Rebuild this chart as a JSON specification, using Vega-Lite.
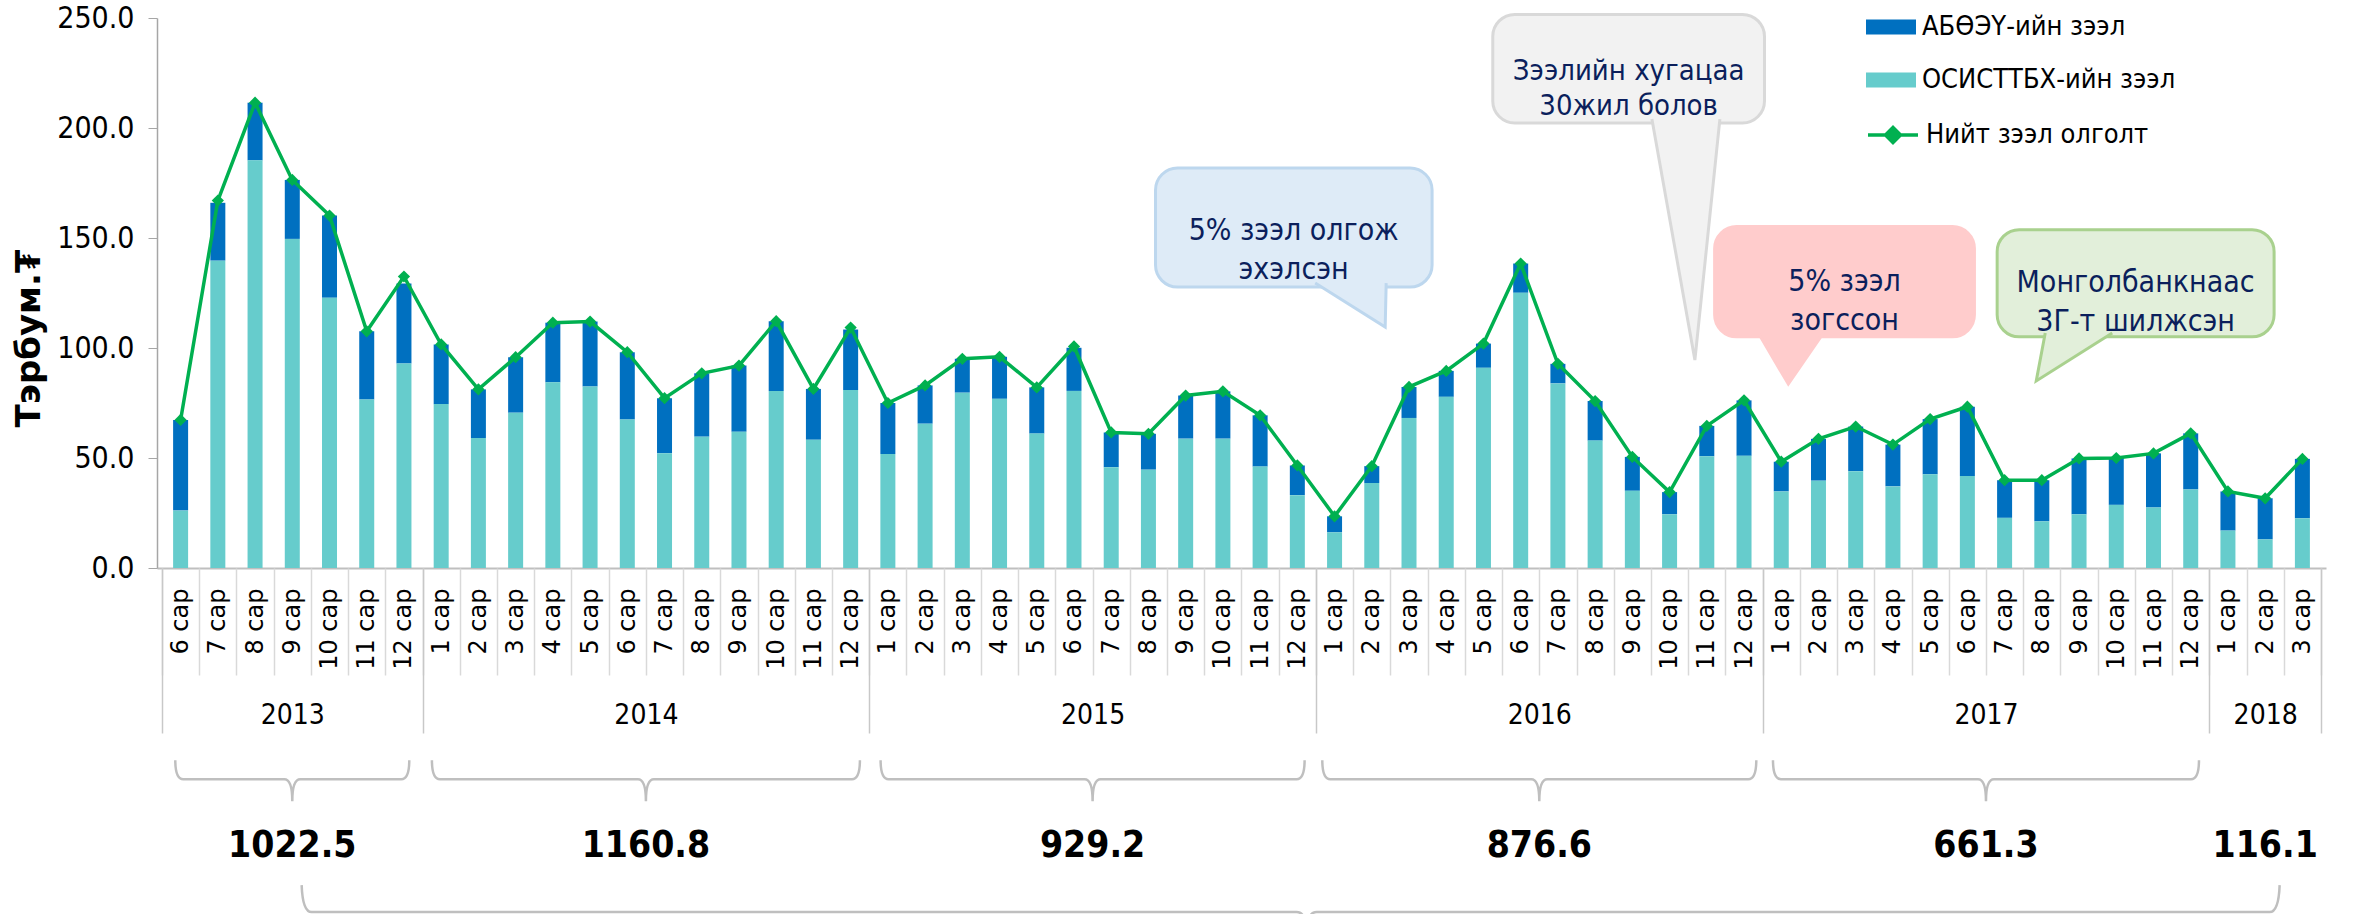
{
  "$schema": "https://vega.github.io/schema/vega-lite/v6.json",
  "width": 2169,
  "height": 550,
  "autosize": {"type": "none"},
  "padding": {"left": 157, "top": 18, "right": 38, "bottom": 346},
  "background": "white",
  "config": {"view": {"stroke": null}},
  "data": {"values": [
    {"i": 0, "year": 2013, "month": 6, "osis": 26.1, "abo": 41.2, "total": 67.3},
    {"i": 1, "year": 2013, "month": 7, "osis": 139.7, "abo": 26.3, "total": 167.0},
    {"i": 2, "year": 2013, "month": 8, "osis": 185.3, "abo": 26.2, "total": 211.5},
    {"i": 3, "year": 2013, "month": 9, "osis": 149.6, "abo": 26.8, "total": 176.4},
    {"i": 4, "year": 2013, "month": 10, "osis": 122.8, "abo": 37.4, "total": 160.2},
    {"i": 5, "year": 2013, "month": 11, "osis": 76.6, "abo": 31.0, "total": 107.6},
    {"i": 6, "year": 2013, "month": 12, "osis": 92.9, "abo": 36.4, "total": 132.5},
    {"i": 7, "year": 2014, "month": 1, "osis": 74.5, "abo": 27.1, "total": 101.6},
    {"i": 8, "year": 2014, "month": 2, "osis": 59.1, "abo": 22.1, "total": 81.2},
    {"i": 9, "year": 2014, "month": 3, "osis": 70.6, "abo": 25.2, "total": 95.8},
    {"i": 10, "year": 2014, "month": 4, "osis": 84.4, "abo": 27.1, "total": 111.5},
    {"i": 11, "year": 2014, "month": 5, "osis": 82.5, "abo": 29.5, "total": 112.0},
    {"i": 12, "year": 2014, "month": 6, "osis": 67.5, "abo": 30.6, "total": 98.1},
    {"i": 13, "year": 2014, "month": 7, "osis": 52.2, "abo": 25.0, "total": 77.2},
    {"i": 14, "year": 2014, "month": 8, "osis": 59.7, "abo": 28.8, "total": 88.5},
    {"i": 15, "year": 2014, "month": 9, "osis": 61.9, "abo": 30.1, "total": 92.0},
    {"i": 16, "year": 2014, "month": 10, "osis": 80.5, "abo": 31.7, "total": 112.2},
    {"i": 17, "year": 2014, "month": 11, "osis": 58.3, "abo": 23.1, "total": 81.4},
    {"i": 18, "year": 2014, "month": 12, "osis": 80.9, "abo": 27.5, "total": 109.3},
    {"i": 19, "year": 2015, "month": 1, "osis": 51.8, "abo": 23.2, "total": 75.0},
    {"i": 20, "year": 2015, "month": 2, "osis": 65.6, "abo": 17.4, "total": 83.0},
    {"i": 21, "year": 2015, "month": 3, "osis": 79.7, "abo": 15.4, "total": 95.1},
    {"i": 22, "year": 2015, "month": 4, "osis": 76.9, "abo": 19.1, "total": 96.0},
    {"i": 23, "year": 2015, "month": 5, "osis": 61.1, "abo": 21.0, "total": 82.1},
    {"i": 24, "year": 2015, "month": 6, "osis": 80.5, "abo": 19.6, "total": 100.7},
    {"i": 25, "year": 2015, "month": 7, "osis": 45.8, "abo": 15.8, "total": 61.6},
    {"i": 26, "year": 2015, "month": 8, "osis": 44.7, "abo": 16.3, "total": 61.0},
    {"i": 27, "year": 2015, "month": 9, "osis": 58.8, "abo": 19.6, "total": 78.4},
    {"i": 28, "year": 2015, "month": 10, "osis": 58.8, "abo": 21.5, "total": 80.3},
    {"i": 29, "year": 2015, "month": 11, "osis": 46.1, "abo": 23.3, "total": 69.4},
    {"i": 30, "year": 2015, "month": 12, "osis": 33.1, "abo": 13.5, "total": 46.6},
    {"i": 31, "year": 2016, "month": 1, "osis": 16.2, "abo": 7.3, "total": 23.5},
    {"i": 32, "year": 2016, "month": 2, "osis": 38.6, "abo": 7.7, "total": 46.3},
    {"i": 33, "year": 2016, "month": 3, "osis": 68.2, "abo": 14.1, "total": 82.3},
    {"i": 34, "year": 2016, "month": 4, "osis": 77.8, "abo": 11.8, "total": 89.6},
    {"i": 35, "year": 2016, "month": 5, "osis": 91.0, "abo": 11.0, "total": 102.0},
    {"i": 36, "year": 2016, "month": 6, "osis": 125.1, "abo": 13.3, "total": 138.4},
    {"i": 37, "year": 2016, "month": 7, "osis": 83.9, "abo": 8.9, "total": 92.8},
    {"i": 38, "year": 2016, "month": 8, "osis": 57.9, "abo": 18.0, "total": 75.9},
    {"i": 39, "year": 2016, "month": 9, "osis": 35.1, "abo": 15.4, "total": 50.5},
    {"i": 40, "year": 2016, "month": 10, "osis": 24.4, "abo": 10.1, "total": 34.5},
    {"i": 41, "year": 2016, "month": 11, "osis": 50.8, "abo": 13.8, "total": 64.6},
    {"i": 42, "year": 2016, "month": 12, "osis": 51.0, "abo": 25.2, "total": 76.2},
    {"i": 43, "year": 2017, "month": 1, "osis": 34.8, "abo": 13.5, "total": 48.3},
    {"i": 44, "year": 2017, "month": 2, "osis": 39.7, "abo": 19.0, "total": 58.7},
    {"i": 45, "year": 2017, "month": 3, "osis": 44.0, "abo": 20.3, "total": 64.3},
    {"i": 46, "year": 2017, "month": 4, "osis": 37.1, "abo": 19.0, "total": 56.1},
    {"i": 47, "year": 2017, "month": 5, "osis": 42.6, "abo": 25.1, "total": 67.7},
    {"i": 48, "year": 2017, "month": 6, "osis": 41.8, "abo": 31.5, "total": 73.3},
    {"i": 49, "year": 2017, "month": 7, "osis": 22.8, "abo": 17.1, "total": 39.9},
    {"i": 50, "year": 2017, "month": 8, "osis": 21.2, "abo": 18.7, "total": 39.9},
    {"i": 51, "year": 2017, "month": 9, "osis": 24.4, "abo": 25.4, "total": 49.8},
    {"i": 52, "year": 2017, "month": 10, "osis": 28.7, "abo": 21.3, "total": 50.0},
    {"i": 53, "year": 2017, "month": 11, "osis": 27.5, "abo": 24.6, "total": 52.1},
    {"i": 54, "year": 2017, "month": 12, "osis": 35.7, "abo": 25.5, "total": 61.2},
    {"i": 55, "year": 2018, "month": 1, "osis": 17.0, "abo": 17.8, "total": 34.8},
    {"i": 56, "year": 2018, "month": 2, "osis": 13.0, "abo": 18.7, "total": 31.7},
    {"i": 57, "year": 2018, "month": 3, "osis": 22.6, "abo": 27.0, "total": 49.6}
  ]},
  "resolve": {"axis": {"x": "independent", "y": "independent"}},
  "layer": [
    {
      "transform": [{"fold": ["abo", "osis"], "as": ["series", "value"]}],
      "mark": {"type": "bar", "width": 15},
      "encoding": {
        "x": {"field": "i", "type": "quantitative",
          "scale": {"domain": [-0.5, 57.5], "nice": false, "zero": false},
          "axis": {"orient": "bottom", "title": null, "values": [0,1,2,3,4,5,6,7,8,9,10,11,12,13,14,15,16,17,18,19,20,21,22,23,24,25,26,27,28,29,30,31,32,33,34,35,36,37,38,39,40,41,42,43,44,45,46,47,48,49,50,51,52,53,54,55,56,57],
            "labelExpr": "((datum.value + 5) % 12 + 1) + ' сар'",
            "labelAngle": -90, "labelAlign": "right", "labelBaseline": "middle",
            "labelFont": "DejaVu Sans", "labelFontSize": 24, "labelColor": "black",
            "labelPadding": 20, "labelFlush": false, "labelOverlap": false,
            "ticks": false, "tickSize": 0, "grid": false,
            "domainColor": "#BFBFBF", "domainWidth": 2}},
        "y": {"field": "value", "type": "quantitative", "stack": "zero",
          "scale": {"domain": [0, 250], "nice": false},
          "axis": {"orient": "left", "title": "Тэрбум.₮", "values": [0, 50, 100, 150, 200, 250], "format": ".1f", "grid": false,
            "domainColor": "#A6A6A6", "domainWidth": 1.5, "tickColor": "#A6A6A6", "tickSize": 9,
            "labelFont": "DejaVu Sans Condensed, Liberation Sans Narrow, Liberation Sans", "labelFontSize": 30, "labelColor": "black", "labelPadding": 14,
            "titleFont": "DejaVu Sans", "titleFontSize": 34, "titleFontWeight": "bold", "titleColor": "black",
            "titleX": -128, "titleY": 320, "titleAngle": -90, "titleAlign": "center", "titleBaseline": "middle"}},
        "color": {"field": "series", "type": "nominal",
          "scale": {"domain": ["abo", "osis"], "range": ["#0070C0", "#66CCCC"]},
          "legend": {"title": null, "orient": "none", "legendX": 1709, "legendY": -16,
            "symbolType": "M-1,-0.3H1V0.3H-1Z", "symbolSize": 2500, "symbolStrokeWidth": 0,
            "labelFont": "DejaVu Sans Condensed, Liberation Sans Narrow, Liberation Sans", "labelFontSize": 27, "labelColor": "black",
            "labelOffset": 6, "rowPadding": 15, "padding": 0, "labelLimit": 500,
            "labelExpr": "datum.value == 'abo' ? 'АБӨЭҮ-ийн зээл' : 'ОСИСТТБХ-ийн зээл'"}},
        "order": {"field": "series", "sort": "descending"}
      }
    },
    {
      "mark": {"type": "line", "strokeWidth": 3.5},
      "encoding": {
        "x": {"field": "i", "type": "quantitative",
          "axis": {"orient": "bottom", "title": null, "labels": false, "domain": false, "grid": false,
            "values": [-0.5,0.5,1.5,2.5,3.5,4.5,5.5,6.5,7.5,8.5,9.5,10.5,11.5,12.5,13.5,14.5,15.5,16.5,17.5,18.5,19.5,20.5,21.5,22.5,23.5,24.5,25.5,26.5,27.5,28.5,29.5,30.5,31.5,32.5,33.5,34.5,35.5,36.5,37.5,38.5,39.5,40.5,41.5,42.5,43.5,44.5,45.5,46.5,47.5,48.5,49.5,50.5,51.5,52.5,53.5,54.5,55.5,56.5,57.5],
            "tickColor": "#D9D9D9", "tickWidth": 1.5, "tickSize": 107}},
        "y": {"field": "total", "type": "quantitative", "axis": null},
        "stroke": {"datum": "Нийт зээл олголт", "type": "nominal",
          "scale": {"range": ["#00B050"]},
          "legend": {"title": null, "orient": "none", "legendX": 1709, "legendY": 90,
            "symbolType": "M-1,0H1M-0.3,0L0,-0.3L0.3,0L0,0.3Z", "symbolSize": 2500, "symbolStrokeWidth": 3.5,
            "symbolFillColor": "#00B050",
            "labelFont": "DejaVu Sans Condensed, Liberation Sans Narrow, Liberation Sans", "labelFontSize": 27, "labelColor": "black",
            "labelOffset": 6, "padding": 0, "labelLimit": 500}}
      }
    },
    {
      "mark": {"type": "point", "shape": "diamond", "filled": true, "color": "#00B050", "size": 150, "opacity": 1},
      "encoding": {
        "x": {"field": "i", "type": "quantitative",
          "axis": {"orient": "bottom", "title": null, "labels": false, "domain": false, "grid": false,
            "values": [-0.5, 6.5, 18.5, 30.5, 42.5, 54.5, 57.5],
            "tickColor": "#C8C8C8", "tickWidth": 1.5, "tickSize": 165}},
        "y": {"field": "total", "type": "quantitative", "axis": null}
      }
    },
    {
      "transform": [
        {"aggregate": [{"op": "mean", "field": "i", "as": "mid"}, {"op": "sum", "field": "total", "as": "ysum"}], "groupby": ["year"]},
        {"filter": "datum.year < 2018"}
      ],
      "mark": {"type": "point", "filled": false, "stroke": "#BFBFBF", "strokeWidth": 2.5, "size": 4, "opacity": 1},
      "encoding": {
        "x": {"field": "mid", "type": "quantitative",
          "axis": {"orient": "bottom", "title": null, "values": [3, 12.5, 24.5, 36.5, 48.5, 56],
            "labelExpr": "datum.value < 7 ? '2013' : datum.value < 19 ? '2014' : datum.value < 31 ? '2015' : datum.value < 43 ? '2016' : datum.value < 55 ? '2017' : '2018'",
            "labelFont": "DejaVu Sans Condensed, Liberation Sans Narrow, Liberation Sans", "labelFontSize": 28, "labelColor": "black",
            "labelBaseline": "middle", "labelPadding": 147, "labelFlush": false, "labelOverlap": false,
            "ticks": false, "tickSize": 0, "domain": false, "grid": false}},
        "y": {"datum": -96, "type": "quantitative", "axis": null},
        "shape": {"field": "year", "type": "nominal", "legend": null,
          "scale": {"domain": [2013, 2014, 2015, 2016, 2017],
            "range": [
              "M-117,-19Q-117,0 -109,0L-8,0Q0,0 0,22Q0,0 8,0L109,0Q117,0 117,-19",
              "M-214,-19Q-214,0 -206,0L-8,0Q0,0 0,22Q0,0 8,0L206,0Q214,0 214,-19",
              "M-212,-19Q-212,0 -204,0L-8,0Q0,0 0,22Q0,0 8,0L204,0Q212,0 212,-19",
              "M-217,-19Q-217,0 -209,0L-8,0Q0,0 0,22Q0,0 8,0L209,0Q217,0 217,-19",
              "M-213,-19Q-213,0 -205,0L-8,0Q0,0 0,22Q0,0 8,0L205,0Q213,0 213,-19"
            ]}}
      }
    },
    {
      "transform": [
        {"aggregate": [{"op": "mean", "field": "i", "as": "mid"}, {"op": "sum", "field": "total", "as": "ysum"}], "groupby": ["year"]}
      ],
      "mark": {"type": "text", "font": "DejaVu Sans Condensed, Liberation Sans Narrow, Liberation Sans", "fontSize": 37, "fontWeight": "bold", "color": "black", "align": "center", "baseline": "middle"},
      "encoding": {
        "x": {"field": "mid", "type": "quantitative", "axis": null},
        "y": {"datum": -126.5, "type": "quantitative", "axis": null},
        "text": {"field": "ysum", "type": "quantitative", "format": ".1f"}
      }
    },
    {
      "data": {"values": [{}]},
      "mark": {"type": "point", "filled": false, "stroke": "#BFBFBF", "strokeWidth": 2.5, "size": 4, "opacity": 1,
        "shape": "M-1005,-27Q-1004,0 -995,0L-10,0Q0,0 0,22Q0,0 10,0L963,0Q972,0 973,-27"},
      "encoding": {
        "x": {"datum": 30.25, "type": "quantitative", "axis": null},
        "y": {"datum": -156.4, "type": "quantitative", "axis": null}
      }
    },
    {
      "data": {"values": [{}]},
      "mark": {"type": "rect", "fill": "#DEEBF7", "stroke": "#BDD7EE", "strokeWidth": 3, "cornerRadius": 22},
      "encoding": {
        "x": {"datum": 26.19, "type": "quantitative", "axis": null}, "x2": {"datum": 33.62},
        "y": {"datum": 127.7, "type": "quantitative", "axis": null}, "y2": {"datum": 181.8}
      }
    },
    {
      "data": {"values": [{}]},
      "mark": {"type": "point", "filled": true, "fill": "#DEEBF7", "stroke": "#BDD7EE", "strokeWidth": 3, "size": 4, "opacity": 1,
        "shape": "M-70,-44L0,0L1,-44"},
      "encoding": {
        "x": {"datum": 32.36, "type": "quantitative", "axis": null},
        "y": {"datum": 109.5, "type": "quantitative", "axis": null}
      }
    },
    {
      "data": {"values": [{}]},
      "mark": {"type": "text", "text": ["5% зээл олгож", "эхэлсэн"], "lineHeight": 39,
        "font": "DejaVu Sans Condensed, Liberation Sans Narrow, Liberation Sans", "fontSize": 30, "color": "#0B1F5C", "align": "center", "baseline": "middle"},
      "encoding": {
        "x": {"datum": 29.9, "type": "quantitative", "axis": null},
        "y": {"datum": 153, "type": "quantitative", "axis": null}
      }
    },
    {
      "data": {"values": [{}]},
      "mark": {"type": "rect", "fill": "#F2F2F2", "stroke": "#D9D9D9", "strokeWidth": 3, "cornerRadius": 22},
      "encoding": {
        "x": {"datum": 35.25, "type": "quantitative", "axis": null}, "x2": {"datum": 42.55},
        "y": {"datum": 202.3, "type": "quantitative", "axis": null}, "y2": {"datum": 251.6}
      }
    },
    {
      "data": {"values": [{}]},
      "mark": {"type": "point", "filled": true, "fill": "#F2F2F2", "stroke": "#D9D9D9", "strokeWidth": 3, "size": 4, "opacity": 1,
        "shape": "M-43,-241L0,0L25,-241"},
      "encoding": {
        "x": {"datum": 40.68, "type": "quantitative", "axis": null},
        "y": {"datum": 94.5, "type": "quantitative", "axis": null}
      }
    },
    {
      "data": {"values": [{}]},
      "mark": {"type": "text", "text": ["Зээлийн хугацаа", "30жил болов"], "lineHeight": 35,
        "font": "DejaVu Sans Condensed, Liberation Sans Narrow, Liberation Sans", "fontSize": 29, "color": "#0B1F5C", "align": "center", "baseline": "middle"},
      "encoding": {
        "x": {"datum": 38.9, "type": "quantitative", "axis": null},
        "y": {"datum": 226, "type": "quantitative", "axis": null}
      }
    },
    {
      "data": {"values": [{}]},
      "mark": {"type": "rect", "fill": "#FFCCCC", "stroke": "#FFCCCC", "strokeWidth": 3, "cornerRadius": 22},
      "encoding": {
        "x": {"datum": 41.21, "type": "quantitative", "axis": null}, "x2": {"datum": 48.19},
        "y": {"datum": 105.1, "type": "quantitative", "axis": null}, "y2": {"datum": 155.2}
      }
    },
    {
      "data": {"values": [{}]},
      "mark": {"type": "point", "filled": true, "fill": "#FFCCCC", "stroke": "#FFCCCC", "strokeWidth": 3, "size": 4, "opacity": 1,
        "shape": "M-30,-51L0,0L35,-51"},
      "encoding": {
        "x": {"datum": 43.19, "type": "quantitative", "axis": null},
        "y": {"datum": 83.6, "type": "quantitative", "axis": null}
      }
    },
    {
      "data": {"values": [{}]},
      "mark": {"type": "text", "text": ["5% зээл", "зогссон"], "lineHeight": 39,
        "font": "DejaVu Sans Condensed, Liberation Sans Narrow, Liberation Sans", "fontSize": 30, "color": "#0B1F5C", "align": "center", "baseline": "middle"},
      "encoding": {
        "x": {"datum": 44.7, "type": "quantitative", "axis": null},
        "y": {"datum": 130, "type": "quantitative", "axis": null}
      }
    },
    {
      "data": {"values": [{}]},
      "mark": {"type": "rect", "fill": "#E2EFDA", "stroke": "#A9D18E", "strokeWidth": 3, "cornerRadius": 22},
      "encoding": {
        "x": {"datum": 48.8, "type": "quantitative", "axis": null}, "x2": {"datum": 56.24},
        "y": {"datum": 105.1, "type": "quantitative", "axis": null}, "y2": {"datum": 153.8}
      }
    },
    {
      "data": {"values": [{}]},
      "mark": {"type": "point", "filled": true, "fill": "#E2EFDA", "stroke": "#A9D18E", "strokeWidth": 3, "size": 4, "opacity": 1,
        "shape": "M9,-48L0,0L76,-48"},
      "encoding": {
        "x": {"datum": 49.85, "type": "quantitative", "axis": null},
        "y": {"datum": 85, "type": "quantitative", "axis": null}
      }
    },
    {
      "data": {"values": [{}]},
      "mark": {"type": "text", "text": ["Монголбанкнаас", "3Г-т шилжсэн"], "lineHeight": 39,
        "font": "DejaVu Sans Condensed, Liberation Sans Narrow, Liberation Sans", "fontSize": 30, "color": "#0B1F5C", "align": "center", "baseline": "middle"},
      "encoding": {
        "x": {"datum": 52.52, "type": "quantitative", "axis": null},
        "y": {"datum": 129.5, "type": "quantitative", "axis": null}
      }
    }
  ]
}
